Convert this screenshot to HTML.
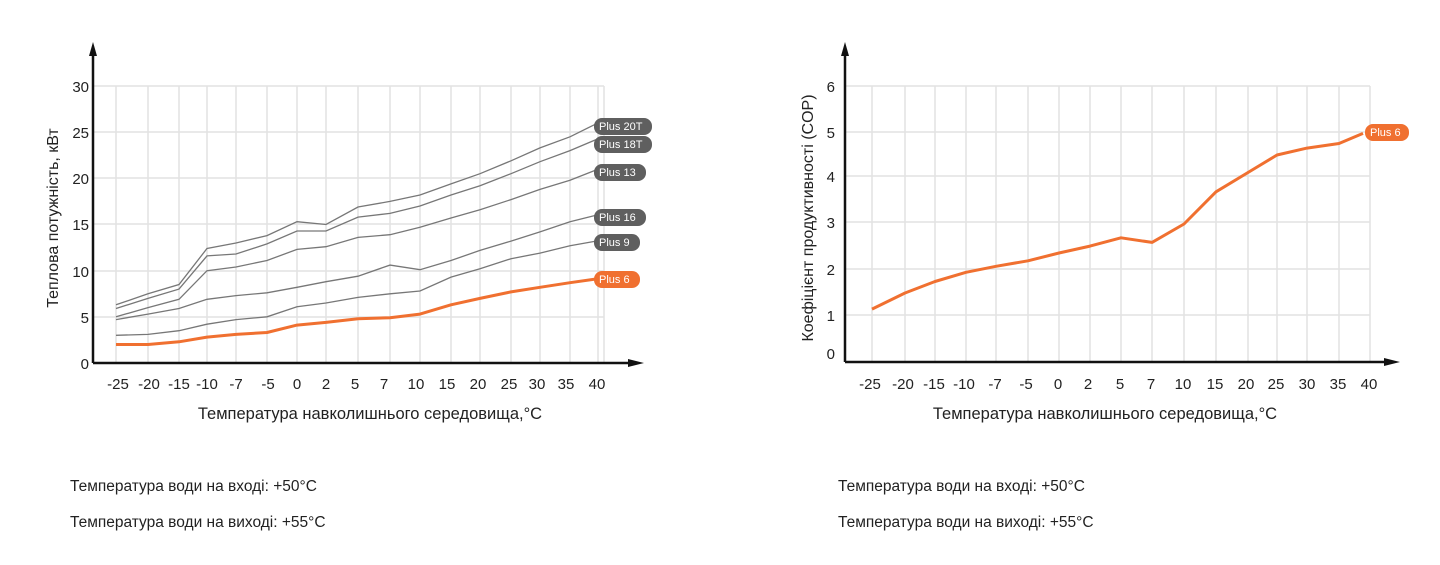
<!DOCTYPE html>
<html><head><meta charset="utf-8"><style>
body{margin:0;background:#fff;width:1440px;height:560px;overflow:hidden}
svg{font-family:"Liberation Sans",sans-serif}
.t{font-size:15px;fill:#222}
.ti{font-size:16.5px;fill:#222}
.g{stroke:#e2e2e2;stroke-width:1.5;fill:none}
.s{stroke:#777;stroke-width:1.3;fill:none}
.o{stroke:#f07030;stroke-width:3;fill:none;stroke-linejoin:round}
.p{font-size:11px;fill:#fff}
.n{font-size:15.5px;fill:#222}
</style></head><body>
<svg width="1440" height="560" viewBox="0 0 1440 560">
<g class="g">
<path d="M93 86H604M93 132H604M93 178H604M93 224H604M93 271H604M93 317H604"/>
<path d="M116 86V363M148 86V363M179 86V363M207 86V363M236 86V363M267 86V363M297 86V363M326 86V363M358 86V363M390 86V363M420 86V363M451 86V363M480 86V363M511 86V363M540 86V363M570 86V363M598 86V363M604 86V363"/>
</g>
<path d="M93 363V50M93 363H630" stroke="#111" stroke-width="2.5"/>
<polygon points="93,42 89,56 97,56" fill="#111"/>
<polygon points="644,363 628,359 628,367" fill="#111"/>
<g class="t" text-anchor="end">
<text x="89" y="92">30</text><text x="89" y="138">25</text><text x="89" y="184">20</text><text x="89" y="230">15</text><text x="89" y="277">10</text><text x="89" y="323">5</text><text x="89" y="369">0</text>
</g>
<g class="t" text-anchor="middle">
<text x="118" y="389">-25</text><text x="149" y="389">-20</text><text x="179" y="389">-15</text><text x="207" y="389">-10</text><text x="236" y="389">-7</text><text x="268" y="389">-5</text><text x="297" y="389">0</text><text x="326" y="389">2</text><text x="355" y="389">5</text><text x="384" y="389">7</text><text x="416" y="389">10</text><text x="447" y="389">15</text><text x="478" y="389">20</text><text x="509" y="389">25</text><text x="537" y="389">30</text><text x="566" y="389">35</text><text x="597" y="389">40</text>
</g>
<g class="ti" text-anchor="middle">
<text x="370" y="419">Температура навколишнього середовища,°С</text>
<text transform="translate(58,218) rotate(-90)" style="font-size:16px">Теплова потужність, кВт</text>
</g>
<polyline class="s" points="116,304.8 148,293.8 179,284.5 207,248.5 236,243 267,235.6 297,221.7 326,224.5 358,207 390,201.4 420,195 451,183.9 480,173.7 511,160.8 540,147.9 570,136.8 596,123.9"/>
<polyline class="s" points="116,308.5 148,298.4 179,289.1 207,255.9 236,254 267,243.9 297,231 326,231 358,217.1 390,213.4 420,206 451,195 480,185.7 511,173.7 540,161.7 570,150.6 596,139.6"/>
<polyline class="s" points="116,316.8 148,307.6 179,299.3 207,270.7 236,267 267,260.5 297,249.4 326,246.7 358,237.4 390,234.7 420,227.3 451,218 480,209.7 511,199.6 540,189.4 570,180.2 596,170"/>
<polyline class="s" points="116,319.6 148,314.1 179,308.5 207,299.3 236,295.6 267,292.8 297,287.3 326,281.7 358,276.2 390,265.1 420,269.7 451,260.5 480,250.4 511,241.1 540,231.9 570,221.7 596,215.3"/>
<polyline class="s" points="116,335.3 148,334.4 179,330.7 207,324.2 236,319.6 267,316.8 297,306.7 326,303 358,297.4 390,293.8 420,291 451,277.1 480,268.8 511,258.7 540,253.1 570,245.7 596,241.1"/>
<polyline class="o" points="116,344.5 148,344.5 179,341.8 207,337.1 236,334.4 267,332.5 297,325.1 326,322.4 358,318.7 390,317.8 420,314.1 451,304.8 480,298.4 511,291.9 540,287.3 570,282.7 596,279"/>
<g>
<rect x="594" y="118" width="58" height="17" rx="8" fill="#5f5f5f"/><text class="p" x="599" y="130">Plus 20T</text>
<rect x="594" y="136" width="58" height="17" rx="8" fill="#5f5f5f"/><text class="p" x="599" y="148">Plus 18T</text>
<rect x="594" y="164" width="52" height="17" rx="8" fill="#5f5f5f"/><text class="p" x="599" y="176">Plus 13</text>
<rect x="594" y="209" width="52" height="17" rx="8" fill="#5f5f5f"/><text class="p" x="599" y="221">Plus 16</text>
<rect x="594" y="234" width="46" height="17" rx="8" fill="#5f5f5f"/><text class="p" x="599" y="246">Plus 9</text>
<rect x="594" y="271" width="46" height="17" rx="8" fill="#f07030"/><text class="p" x="599" y="283">Plus 6</text>
</g>
<text class="n" x="70" y="491">Температура води на вході: +50°С</text>
<text class="n" x="70" y="527">Температура води на виході: +55°С</text>

<g class="g">
<path d="M845 86H1370M845 132H1370M845 176H1370M845 222H1370M845 269H1370M845 315H1370"/>
<path d="M872 86V362M905 86V362M935 86V362M966 86V362M996 86V362M1028 86V362M1059 86V362M1090 86V362M1121 86V362M1152 86V362M1184 86V362M1216 86V362M1248 86V362M1277 86V362M1307 86V362M1339 86V362M1370 86V362"/>
</g>
<path d="M845 362V50M845 362H1385" stroke="#111" stroke-width="2.5"/>
<polygon points="845,42 841,56 849,56" fill="#111"/>
<polygon points="1400,362 1384,358 1384,366" fill="#111"/>
<g class="t" text-anchor="end">
<text x="835" y="92">6</text><text x="835" y="138">5</text><text x="835" y="182">4</text><text x="835" y="228">3</text><text x="835" y="275">2</text><text x="835" y="321">1</text><text x="835" y="359">0</text>
</g>
<g class="t" text-anchor="middle">
<text x="870" y="389">-25</text><text x="903" y="389">-20</text><text x="934" y="389">-15</text><text x="964" y="389">-10</text><text x="995" y="389">-7</text><text x="1026" y="389">-5</text><text x="1058" y="389">0</text><text x="1088" y="389">2</text><text x="1120" y="389">5</text><text x="1151" y="389">7</text><text x="1183" y="389">10</text><text x="1215" y="389">15</text><text x="1246" y="389">20</text><text x="1276" y="389">25</text><text x="1307" y="389">30</text><text x="1338" y="389">35</text><text x="1369" y="389">40</text>
</g>
<g class="ti" text-anchor="middle">
<text x="1105" y="419">Температура навколишнього середовища,°С</text>
<text transform="translate(813,218) rotate(-90)" style="font-size:16px">Коефіцієнт продуктивності (COP)</text>
</g>
<polyline class="o" points="872,309.1 905,293 935,281.5 966,272.3 996,266.3 1028,260.8 1059,253 1090,246.1 1121,237.8 1152,242.4 1184,224 1216,191.8 1248,172.5 1277,155 1307,148.1 1339,143.5 1363,133.4"/>
<rect x="1365" y="124" width="44" height="17" rx="8" fill="#f07030"/><text class="p" x="1370" y="136">Plus 6</text>
<text class="n" x="838" y="491">Температура води на вході: +50°С</text>
<text class="n" x="838" y="527">Температура води на виході: +55°С</text>
</svg>
</body></html>
